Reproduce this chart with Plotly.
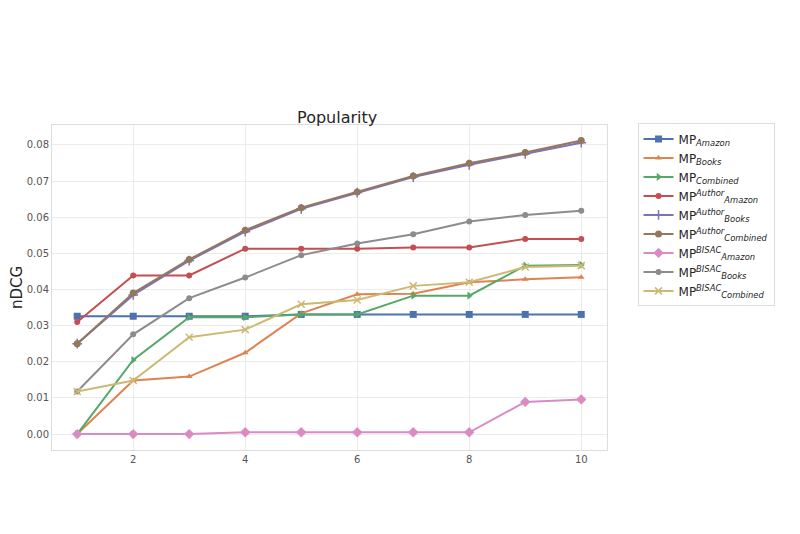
import plotly.graph_objects as go

k = [1, 2, 3, 4, 5, 6, 7, 8, 9, 10]

mp_amazon = [0.0326, 0.0326, 0.0326, 0.0326, 0.0331, 0.0331, 0.0331, 0.0331, 0.0331, 0.0331]
mp_books = [0.0, 0.0148, 0.0159, 0.0225, 0.0334, 0.0387, 0.0388, 0.0420, 0.0428, 0.0434]
mp_combined = [0.0, 0.0205, 0.0323, 0.0323, 0.0331, 0.0331, 0.0383, 0.0383, 0.0466, 0.0468]
mp_author_amazon = [0.0310, 0.0439, 0.0439, 0.0513, 0.0513, 0.0513, 0.0516, 0.0516, 0.0540, 0.0540]
mp_author_books = [0.0250, 0.0385, 0.0480, 0.0560, 0.0623, 0.0668, 0.0711, 0.0745, 0.0775, 0.0806]
mp_author_combined = [0.0250, 0.0390, 0.0483, 0.0564, 0.0626, 0.0670, 0.0714, 0.0749, 0.0779, 0.0812]
mp_bisac_amazon = [0.0, 0.0, 0.0, 0.0005, 0.0005, 0.0005, 0.0005, 0.0005, 0.0089, 0.0096]
mp_bisac_books = [0.0118, 0.0276, 0.0376, 0.0433, 0.0495, 0.0527, 0.0553, 0.0588, 0.0606, 0.0618]
mp_bisac_combined = [0.0118, 0.0148, 0.0268, 0.0289, 0.0359, 0.0371, 0.0410, 0.0420, 0.0462, 0.0466]

names = [
    "MP<sub><i>Amazon</i></sub>",
    "MP<sub><i>Books</i></sub>",
    "MP<sub><i>Combined</i></sub>",
    "MP<sup><i>Author</i></sup><sub><i>Amazon</i></sub>",
    "MP<sup><i>Author</i></sup><sub><i>Books</i></sub>",
    "MP<sup><i>Author</i></sup><sub><i>Combined</i></sub>",
    "MP<sup><i>BISAC</i></sup><sub><i>Amazon</i></sub>",
    "MP<sup><i>BISAC</i></sup><sub><i>Books</i></sub>",
    "MP<sup><i>BISAC</i></sup><sub><i>Combined</i></sub>",
]
series = [mp_amazon, mp_books, mp_combined, mp_author_amazon, mp_author_books,
          mp_author_combined, mp_bisac_amazon, mp_bisac_books, mp_bisac_combined]
colors = ["#4c72b0", "#dd8452", "#55a868", "#c44e52", "#8172b3",
          "#937860", "#da8bc3", "#8c8c8c", "#ccb974"]
symbols = ["square", "triangle-up", "triangle-right", "circle", "cross-thin",
           "circle", "diamond", "circle", "x-thin"]
sizes = [7, 6, 7, 6, 7, 7, 8, 6, 7]

fig = go.Figure()
for n, s, c, sym, sz in zip(names, series, colors, symbols, sizes):
    marker = dict(symbol=sym, size=sz, color=c)
    if sym.endswith("-thin"):
        marker["line"] = dict(color=c, width=1.5)
    fig.add_trace(go.Scatter(x=k, y=s, name=n, mode="lines+markers",
                             line=dict(color=c, width=2), marker=marker))

fig.update_layout(
    width=800, height=534,
    paper_bgcolor="white", plot_bgcolor="white",
    margin=dict(l=44, r=201, t=117, b=92, autoexpand=False),
    title=dict(text="Popularity", x=0.4115, xanchor="center", y=0.795, yanchor="middle",
               font=dict(family="DejaVu Sans", size=16, color="#262626")),
    font=dict(family="DejaVu Sans", color="#444"),
    showlegend=True,
    legend=dict(x=1.055, y=1.005, xanchor="left", yanchor="top",
                bgcolor="white", bordercolor="#dddddd", borderwidth=1,
                font=dict(size=12, color="#262626"), tracegroupgap=0,
                itemwidth=30),
)
fig.update_xaxes(range=[0.55, 10.46], tickvals=[2, 4, 6, 8, 10], automargin=False,
                 showgrid=True, gridcolor="#ebebeb", zeroline=False,
                 showline=True, linecolor="#dddddd", mirror=True,
                 ticks="", tickfont=dict(size=10, color="#555"))
fig.update_yaxes(range=[-0.0044, 0.0855], tickvals=[0, 0.01, 0.02, 0.03, 0.04, 0.05, 0.06, 0.07, 0.08],
                 tickformat=".2f", showgrid=True, gridcolor="#ebebeb", zeroline=False,
                 showline=True, linecolor="#dddddd", mirror=True, automargin=False,
                 ticks="", tickfont=dict(size=10, color="#555"),
                 title=dict(text="nDCG", font=dict(size=15, color="#262626"), standoff=14))

fig.write_html("out.html")
